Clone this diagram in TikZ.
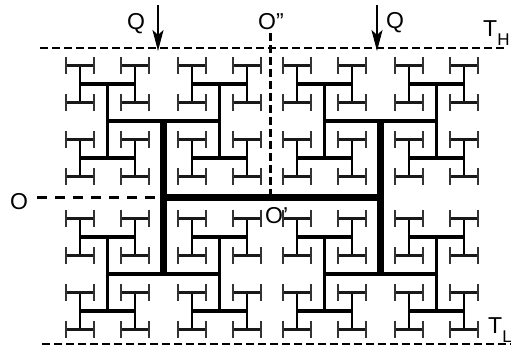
\documentclass[tikz,border=0pt]{standalone}
\usepackage{fontspec}
\setmainfont{Liberation Sans}
\usetikzlibrary{arrows.meta}
\tikzset{
  lab/.style={font=\fontsize{23}{27}\selectfont, inner sep=0pt, anchor=base west},
  lv0/.style={line width=6.5pt},
  lv1/.style={line width=6.2pt},
  lv2/.style={line width=4.2pt},
  lv3/.style={line width=3.7pt},
  lv4/.style={line width=3.1pt},
  lv5/.style={line width=2.7pt},
  lv6/.style={line width=2.3pt, black!90},
  lv7/.style={line width=2.3pt, black!80},
  tline/.style={line width=1.8pt, dash pattern=on 7.5pt off 4.5pt},
  odash/.style={line width=2.8pt, dash pattern=on 10pt off 8pt},
  vdash/.style={line width=3pt, dash pattern=on 8pt off 4pt},
  qarrow/.style={line width=2pt, -{Stealth[length=21pt,width=11pt,inset=5pt]}}
}
\begin{document}
\begin{tikzpicture}[x=1pt,y=-1pt]
\useasboundingbox (0,0) rectangle (511,348);
\def\cx{272}\def\cy{197.5}
\def\hA{108.5}\def\vB{76.5}\def\hC{56}\def\vD{37}
\def\hE{27.5}\def\vF{18.5}\def\hG{14}\def\vH{8.5}
% H-tree
\draw[lv0] (\cx-\hA,\cy) -- (\cx+\hA,\cy);
\foreach \a in {-1,1}{
  \pgfmathsetmacro\xa{\cx+\a*\hA}
  \draw[lv1] (\xa,\cy-\vB) -- (\xa,\cy+\vB);
  \foreach \b in {-1,1}{
    \pgfmathsetmacro\yb{\cy+\b*\vB}
    \draw[lv2] (\xa-\hC,\yb) -- (\xa+\hC,\yb);
    \foreach \c in {-1,1}{
      \pgfmathsetmacro\xc{\xa+\c*\hC}
      \draw[lv3] (\xc,\yb-\vD) -- (\xc,\yb+\vD);
      \foreach \d in {-1,1}{
        \pgfmathsetmacro\yd{\yb+\d*\vD}
        \draw[lv4] (\xc-\hE,\yd) -- (\xc+\hE,\yd);
        \foreach \e in {-1,1}{
          \pgfmathsetmacro\xe{\xc+\e*\hE}
          \draw[lv5] (\xe,\yd-\vF) -- (\xe,\yd+\vF);
          \foreach \f in {-1,1}{
            \pgfmathsetmacro\yf{\yd+\f*\vF}
            \draw[lv6] (\xe-\hG,\yf) -- (\xe+\hG,\yf);
            \draw[lv7] (\xe-\hG,\yf-\vH) -- (\xe-\hG,\yf+\vH);
            \draw[lv7] (\xe+\hG,\yf-\vH) -- (\xe+\hG,\yf+\vH);
          }
        }
      }
    }
  }
}
% key coordinates
\coordinate (barL) at (\cx-\hA,\cy);
\coordinate (oStart) at (37,\cy);
\coordinate (vTop) at (270,33);
\coordinate (vBot) at (270,\cy);
\coordinate (thL) at (40,48);
\coordinate (thR) at (507,48);
\coordinate (tlL) at (42,344);
\coordinate (tlR) at (511,344);
\coordinate (qLtop) at (158,5);
\coordinate (qLtip) at (158,51);
\coordinate (qRtop) at (377,5);
\coordinate (qRtip) at (377,51);
% dashed lines
\draw[tline] (thL) -- (thR);
\draw[tline] (tlL) -- (tlR);
\draw[odash] (oStart) -- (barL);
\draw[vdash] (vTop) -- (vBot);
% arrows
\draw[qarrow] (qLtop) -- (qLtip);
\draw[qarrow] (qRtop) -- (qRtip);
% labels
\node[lab] (qL) at (127,29) {Q};
\node[lab] (qR) at (386,28) {Q};
\node[lab] (oPP) at (258,29) {O''};
\node[lab] (oP) at (265,223) {O'};
\node[lab] (o) at (10,209) {O};
\node[lab] (tH) at (483,36) {T\raisebox{-0.4em}{\fontsize{17}{17}\selectfont H}};
\node[lab] (tL) at (488,333) {T\raisebox{-0.4em}{\fontsize{17}{17}\selectfont L}};
\end{tikzpicture}
\end{document}
